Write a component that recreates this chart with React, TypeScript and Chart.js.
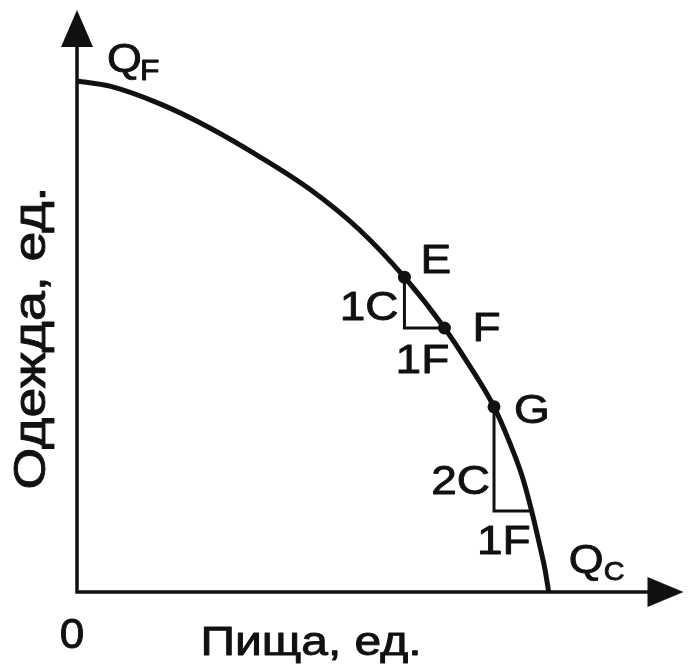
import React, { useEffect, useRef } from "react";
import { Chart, registerables } from "chart.js";

Chart.register(...registerables);

// Production possibility frontier (food on x, clothes on y)
const curveFood = [0, 0.83, 2.08, 3.33, 4.58, 5.84, 7.09, 8.26, 9.27, 9.84, 10.52, 10.89, 11.22, 11.47, 11.67, 11.8, 11.9];
const curveClothes = [9.66, 9.56, 9.23, 8.78, 8.24, 7.63, 6.87, 5.95, 4.99, 4.35, 3.5, 2.87, 2.21, 1.53, 0.89, 0.45, 0];

const pointNames = ["E", "F", "G"];
const pointFood = [8.26, 9.27, 10.52];
const pointClothes = [5.95, 4.99, 3.5];

const tri1Food = [8.26, 8.26, 9.27];
const tri1Clothes = [5.95, 4.99, 4.99];
const tri2Food = [10.52, 10.52, 11.47];
const tri2Clothes = [3.5, 1.53, 1.53];

const triLabels = ["1C", "1F", "2C", "1F"];
const axisTitles = ["Пища, ед.", "Одежда, ед."];
const endLabels = ["Q", "F", "Q", "C"];
const originLabel = "0";

const X_MAX = 15.3;
const Y_MAX = 11;

const zip = (xs: number[], ys: number[]) => xs.map((x, i) => ({ x, y: ys[i] }));

const INK = "#111";
const FONT = '"Liberation Sans", Arial, sans-serif';

function drawText(
  ctx: CanvasRenderingContext2D,
  text: string,
  x: number,
  y: number,
  size: number,
  align: CanvasTextAlign,
  stretch = 1.15,
  rotate = 0
) {
  ctx.save();
  ctx.translate(x, y);
  if (rotate) ctx.rotate(rotate);
  ctx.scale(stretch, 1);
  ctx.font = `${size}px ${FONT}`;
  ctx.textAlign = align;
  ctx.textBaseline = "alphabetic";
  ctx.fillStyle = INK;
  ctx.strokeStyle = INK;
  ctx.lineWidth = 0.9;
  ctx.lineJoin = "round";
  ctx.fillText(text, 0, 0);
  ctx.strokeText(text, 0, 0);
  ctx.restore();
}

const diagramPlugin = {
  id: "ppfDiagram",
  beforeDatasetsDraw(chart: any) {
    const { ctx, scales } = chart;
    const xs = scales.x;
    const ys = scales.y;
    const ox = xs.getPixelForValue(0);
    const oy = ys.getPixelForValue(0);
    const xEnd = xs.getPixelForValue(X_MAX);
    const yEnd = ys.getPixelForValue(Y_MAX);
    ctx.save();
    ctx.strokeStyle = INK;
    ctx.fillStyle = INK;
    ctx.lineWidth = 3.5;
    ctx.lineCap = "butt";
    ctx.beginPath();
    ctx.moveTo(ox, oy + 1.5);
    ctx.lineTo(ox, yEnd + 30);
    ctx.moveTo(ox - 1.5, oy);
    ctx.lineTo(xEnd - 30, oy);
    ctx.stroke();
    // arrowheads
    ctx.beginPath();
    ctx.moveTo(ox, yEnd);
    ctx.lineTo(ox - 16, yEnd + 37);
    ctx.lineTo(ox + 16, yEnd + 37);
    ctx.closePath();
    ctx.fill();
    ctx.beginPath();
    ctx.moveTo(xEnd, oy);
    ctx.lineTo(xEnd - 36, oy - 15);
    ctx.lineTo(xEnd - 36, oy + 15);
    ctx.closePath();
    ctx.fill();
    ctx.restore();
  },
  afterDatasetsDraw(chart: any) {
    const { ctx, scales } = chart;
    const xs = scales.x;
    const ys = scales.y;
    const px = (v: number) => xs.getPixelForValue(v);
    const py = (v: number) => ys.getPixelForValue(v);

    // point labels E, F, G
    const off = [
      [16, -4],
      [28, 13],
      [20, 16],
    ];
    pointNames.forEach((n, i) => {
      drawText(ctx, n, px(pointFood[i]) + off[i][0], py(pointClothes[i]) + off[i][1], 40, "left");
    });

    // triangle labels
    drawText(ctx, triLabels[0], px(tri1Food[0]) - 6, py(tri1Clothes[1]) - 8, 40, "right");
    drawText(ctx, triLabels[1], (px(tri1Food[1]) + px(tri1Food[2])) / 2 - 2, py(tri1Clothes[2]) + 45, 40, "center");
    drawText(ctx, triLabels[2], px(tri2Food[0]) - 4, py(tri2Clothes[1]) - 17, 40, "right");
    drawText(ctx, triLabels[3], (px(tri2Food[1]) + px(tri2Food[2])) / 2 - 9, py(tri2Clothes[2]) + 43, 40, "center");

    // Q_F
    const qfx = px(curveFood[0]);
    const qfy = py(curveClothes[0]);
    drawText(ctx, endLabels[0], qfx + 30, qfy - 9, 40, "left", 1.12);
    drawText(ctx, endLabels[1], qfx + 63, qfy - 1, 29, "left", 1.1);

    // Q_C
    const last = curveFood.length - 1;
    const qcx = px(curveFood[last]);
    const qcy = py(curveClothes[last]);
    drawText(ctx, endLabels[2], qcx + 20, qcy - 19, 40, "left", 1.12);
    drawText(ctx, endLabels[3], qcx + 55, qcy - 12, 25, "left", 1.15);

    // origin
    drawText(ctx, originLabel, px(0) - 5, py(0) + 56, 42, "center", 1.05);

    // axis titles
    drawText(ctx, axisTitles[0], 311, py(0) + 63, 40, "center", 1.2);
    drawText(ctx, axisTitles[1], 45, 338, 44, "center", 1.22, -Math.PI / 2);
  },
};

export default function App() {
  const ref = useRef<HTMLCanvasElement | null>(null);

  useEffect(() => {
    document.body.style.margin = "0";
    const canvas = ref.current;
    if (!canvas) return;
    const chart = new Chart(canvas, {
      type: "line",
      data: {
        datasets: [
          {
            label: "frontier",
            data: zip(curveFood, curveClothes),
            borderColor: INK,
            borderWidth: 5,
            pointRadius: 0,
            cubicInterpolationMode: "monotone",
            fill: false,
          },
          {
            label: "tri1",
            data: zip(tri1Food, tri1Clothes),
            borderColor: INK,
            borderWidth: 3,
            pointRadius: 0,
            tension: 0,
          },
          {
            label: "tri2",
            data: zip(tri2Food, tri2Clothes),
            borderColor: INK,
            borderWidth: 3,
            pointRadius: 0,
            tension: 0,
          },
          {
            label: "points",
            data: zip(pointFood, pointClothes),
            showLine: false,
            pointRadius: 6.5,
            pointBackgroundColor: INK,
            pointBorderColor: INK,
            pointBorderWidth: 0,
          },
        ],
      },
      options: {
        animation: false,
        responsive: false,
        maintainAspectRatio: false,
        layout: { padding: { left: 77, right: 2, top: 10, bottom: 74 } },
        plugins: {
          legend: { display: false },
          tooltip: { enabled: false },
          title: { display: false },
        },
        scales: {
          x: { type: "linear", min: 0, max: X_MAX, display: false },
          y: { type: "linear", min: 0, max: Y_MAX, display: false },
        },
      },
      plugins: [diagramPlugin],
    });
    return () => chart.destroy();
  }, []);

  return (
    <div style={{ position: "fixed", left: 0, top: 0, width: 690, height: 666, background: "#fff" }}>
      <canvas ref={ref} width={690} height={666} style={{ width: 690, height: 666, display: "block" }} />
    </div>
  );
}
